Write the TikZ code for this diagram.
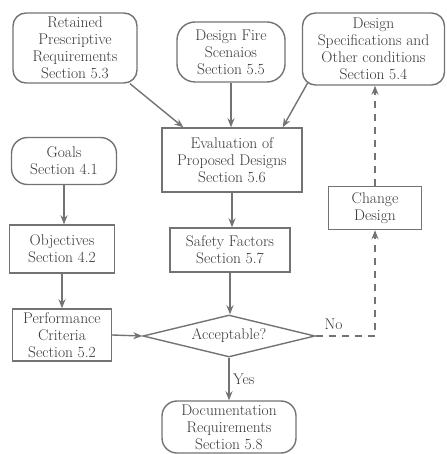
\documentclass[tikz,border=0pt]{standalone}
\usepackage{amsmath}
\usepackage{tikz}
\usetikzlibrary{shapes.geometric,arrows.meta}
\definecolor{linegray}{RGB}{115,115,115}
\definecolor{textgray}{RGB}{55,55,55}

\begin{document}
\begin{tikzpicture}[x=1pt,y=-1pt,
		every node/.style={font=\fontsize{15.5}{17}\selectfont,text=textgray,align=center},
		round/.style={draw=linegray,line width=1.4pt,rounded corners=13pt,inner sep=1pt},
		box/.style={draw=linegray,line width=1.4pt,inner sep=1pt},
		test/.style={draw=linegray,line width=1.4pt,diamond,aspect=4.1,inner sep=0pt,minimum width=172pt,minimum height=42pt},
		link/.style={draw=linegray,line width=1.4pt,-{Stealth[length=9pt,width=7pt]}},
		back/.style={link,dashed,dash pattern=on 7pt off 6pt}]
			\useasboundingbox (0,0) rectangle (446,454);
			\node[round,minimum width=124pt,minimum height=70pt] (ret) at (75,48) {Retained\\Prescriptive\\Requirements\\Section 5.3};
			\node[round,minimum width=108pt,minimum height=60pt,rounded corners=18pt] (fire) at (231,52) {Design Fire\\Scenaios\\Section 5.5};
			\node[round,minimum width=142pt,minimum height=72pt] (spec) at (373.5,49) {Design\\Specifications and\\Other conditions\\Section 5.4};
			\node[box,minimum width=140pt,minimum height=64pt] (eval) at (232,160) {Evaluation of\\Proposed Designs\\Section 5.6};
			\node[round,minimum width=105pt,minimum height=47pt,rounded corners=16pt] (goals) at (64,161) {Goals\\Section 4.1};
			\node[box,minimum width=93pt,minimum height=43pt] (change) at (375,208) {Change\\Design};
			\node[box,minimum width=105pt,minimum height=48pt] (obj) at (62,249) {Objectives\\Section 4.2};
			\node[box,minimum width=120pt,minimum height=44pt] (safety) at (230,250) {Safety Factors\\Section 5.7};
			\node[box,minimum width=99pt,minimum height=52pt] (perf) at (62,335) {Performance\\Criteria\\Section 5.2};
			\node[test] (acc) at (229,336) {Acceptable?};
			\node[round,minimum width=134pt,minimum height=52pt,rounded corners=15pt] (doc) at (229,427) {Documentation\\Requirements\\Section 5.8};
			\draw[link] (ret.-33) -- ([xshift=22pt]eval.north west);
			\draw[link] (fire.south) -- (fire.south |- eval.north);
			\draw[link] ([xshift=6pt,yshift=3pt]spec.south west) -- ([xshift=-20pt]eval.north east);
			\draw[link] (eval.south) -- (eval.south |- safety.north);
			\draw[link] (safety.south) -- (safety.south |- acc.north);
			\draw[link] (goals) -- (goals |- obj.north);
			\draw[link] (obj) -- (obj |- perf.north);
			\draw[link] (perf.east) -- (acc.west);
			\draw[link] (acc.south) -- node[right] (yes) {Yes} (acc.south |- doc.north);
			\draw[back] (acc.east) -- (acc.east -| change.south) node[pos=0.3,above=2pt] (no) {No} -- (change.south);
			\draw[back] (change.north) -- (change.north |- spec.south);
		\end{tikzpicture}
\end{document}
